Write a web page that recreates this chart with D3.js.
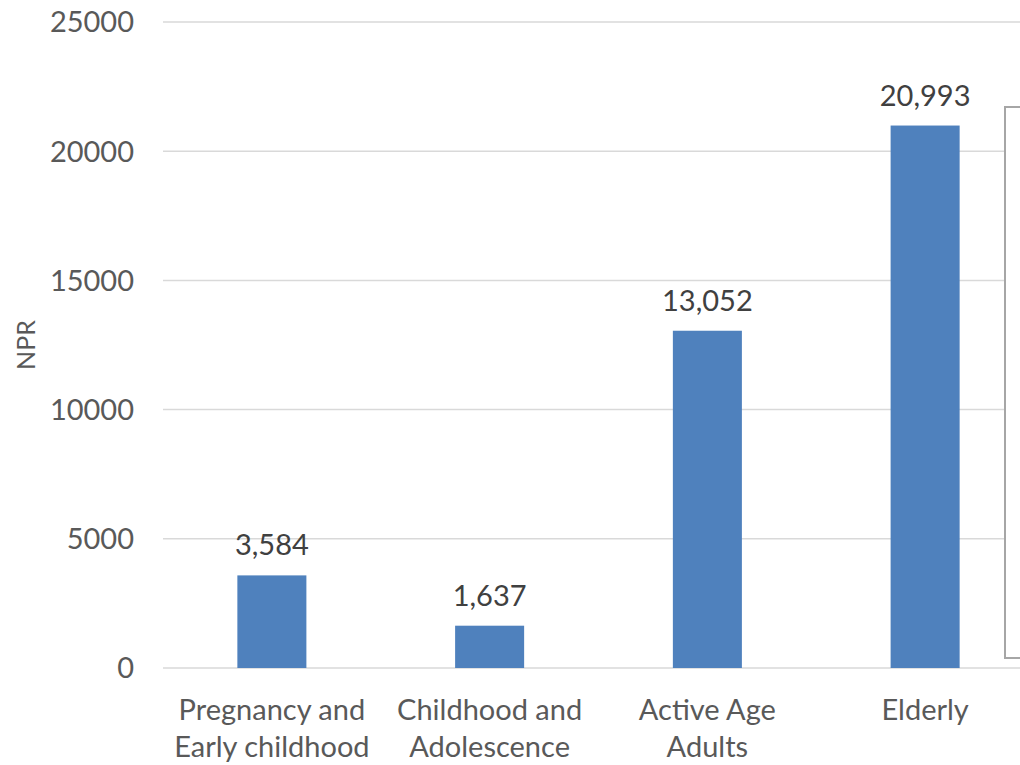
<!DOCTYPE html>
<html>
<head>
<meta charset="utf-8">
<script src="https://cdn.jsdelivr.net/npm/d3@7"></script>
<style>
  body { margin: 0; background: #fff; }
  svg text { font-family: Lato, "Open Sans", sans-serif; }
</style>
</head>
<body>
<div id="chart"></div>
<script>
// data
var categories = [["Pregnancy and", "Early childhood"], ["Childhood and", "Adolescence"], ["Active Age", "Adults"], ["Elderly"]]
var values = [3584, 1637, 13052, 20993]
var yTicks = [0, 5000, 10000, 15000, 20000, 25000]

var width = 1020, height = 765
var plotLeft = 163, plotRight = 1034, plotTop = 22, plotBottom = 668

var svg = d3.select("#chart")
    .append("svg")
    .attr("width", width)
    .attr("height", height)

var x = d3.scaleBand()
    .domain(d3.range(categories.length))
    .range([plotLeft, plotRight])
    .paddingInner(0.683)
    .paddingOuter(0.3415)

var y = d3.scaleLinear()
    .domain([0, 25000])
    .range([plotBottom, plotTop])

// gridlines
svg.append("g")
    .selectAll("line")
    .data(yTicks)
    .enter()
    .append("line")
    .attr("x1", plotLeft)
    .attr("x2", plotRight)
    .attr("y1", function (d) { return y(d) })
    .attr("y2", function (d) { return y(d) })
    .style("stroke", "#d9d9d9")
    .style("stroke-width", 1.5)

// y tick labels
svg.append("g")
    .selectAll("text")
    .data(yTicks)
    .enter()
    .append("text")
    .attr("x", 134)
    .attr("y", function (d) { return y(d) })
    .attr("dy", "0.36em")
    .attr("text-anchor", "end")
    .style("font-size", "29px")
    .style("fill", "#595959")
    .text(function (d) { return d })

// bars
svg.append("g")
    .selectAll("rect")
    .data(values)
    .enter()
    .append("rect")
    .attr("x", function (d, i) { return x(i) })
    .attr("y", function (d) { return y(d) })
    .attr("width", x.bandwidth())
    .attr("height", function (d) { return plotBottom - y(d) })
    .style("fill", "#4f81bd")

// value labels
svg.append("g")
    .selectAll("text")
    .data(values)
    .enter()
    .append("text")
    .attr("x", function (d, i) { return x(i) + x.bandwidth() / 2 })
    .attr("y", function (d) { return y(d) - 20 })
    .attr("text-anchor", "middle")
    .style("font-size", "29px")
    .style("fill", "#404040")
    .text(function (d) { return d3.format(",")(d) })

// category labels
var cat = svg.append("g")
    .selectAll("text")
    .data(categories)
    .enter()
    .append("text")
    .attr("text-anchor", "middle")
    .style("font-size", "29px")
    .style("fill", "#595959")

cat.selectAll("tspan")
    .data(function (d, i) { return d.map(function (s) { return { s: s, i: i } }) })
    .enter()
    .append("tspan")
    .attr("x", function (d) { return x(d.i) + x.bandwidth() / 2 })
    .attr("y", function (d, j) { return 720 + j * 37 })
    .text(function (d) { return d.s })

// axis title
svg.append("text")
    .attr("transform", "translate(35," + ((plotTop + plotBottom) / 2) + ") rotate(-90)")
    .attr("text-anchor", "middle")
    .style("font-size", "25px")
    .style("fill", "#595959")
    .text("NPR")

// box on the right edge (partly cut off)
svg.append("rect")
    .attr("x", 1005)
    .attr("y", 107)
    .attr("width", 40)
    .attr("height", 551)
    .style("fill", "#fff")
    .style("stroke", "#a6a6a6")
    .style("stroke-width", 2)
</script>
</body>
</html>
